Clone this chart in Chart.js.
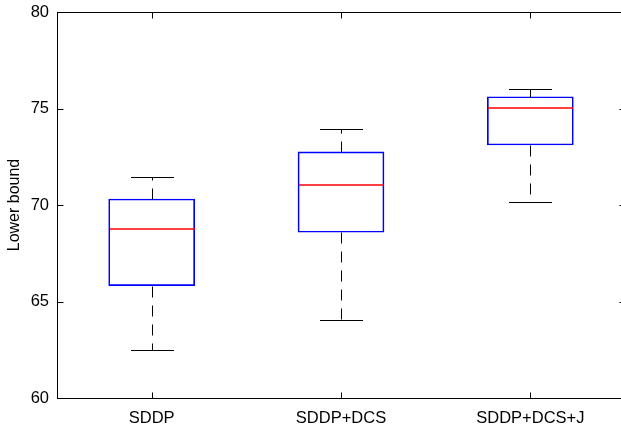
<!DOCTYPE html>
<html lang="en">
<head>
<meta charset="UTF-8">
<title>Lower bound box plot</title>
<script src="https://cdn.jsdelivr.net/npm/chart.js"></script>
<style>
  html, body { margin: 0; padding: 0; overflow: hidden; background: #fff; }
  #wrap { width: 630px; height: 425px; }
</style>
</head>
<body>
<div id="wrap"><canvas id="boxChart"></canvas></div>
<script>
// box plot values
var methods = ['SDDP', 'SDDP+DCS', 'SDDP+DCS+J'];
var whiskerLow = [62.47, 64.06, 70.14];
var q1 = [65.82, 68.59, 73.11];
var median = [68.77, 71.02, 75.01];
var q3 = [70.31, 72.75, 75.61];
var whiskerHigh = [71.45, 73.94, 76.01];
var yTicks = [60, 65, 70, 75, 80];

var boxes = q1.map(function (lo, i) { return [lo, q3[i]]; });

function px(v) { return Math.round(v) + 0.5; }

// medians, whiskers, caps and the matlab style frame with inward ticks
var boxExtras = {
    id: 'boxExtras',
    afterDatasetsDraw: function (chart) {
        var c = chart.ctx;
        var xs = chart.scales.x, ys = chart.scales.y;
        var bars = chart.getDatasetMeta(0).data;
        var area = chart.chartArea;
        c.save();
        c.lineWidth = 1;
        for (var i = 0; i < methods.length; i++) {
            var cx = px(xs.getPixelForValue(i));
            var half = Math.round(bars[i].width / 2);

            // whiskers, dashed from the box edge outward
            c.strokeStyle = '#000000';
            c.setLineDash([11, 8]);
            c.beginPath();
            c.moveTo(cx, px(ys.getPixelForValue(q3[i])));
            c.lineTo(cx, px(ys.getPixelForValue(whiskerHigh[i])));
            c.moveTo(cx, px(ys.getPixelForValue(q1[i])));
            c.lineTo(cx, px(ys.getPixelForValue(whiskerLow[i])));
            c.stroke();
            c.setLineDash([]);

            // caps
            var yh = px(ys.getPixelForValue(whiskerHigh[i]));
            var yl = px(ys.getPixelForValue(whiskerLow[i]));
            c.beginPath();
            c.moveTo(cx - half / 2, yh); c.lineTo(cx + half / 2, yh);
            c.moveTo(cx - half / 2, yl); c.lineTo(cx + half / 2, yl);
            c.stroke();
        }

        // medians in red, a bit soft like the original export
        c.strokeStyle = '#ff0000';
        c.lineWidth = 1.5;
        for (var j = 0; j < methods.length; j++) {
            var mx = Math.round(xs.getPixelForValue(j)) + 0.5;
            var mh = Math.round(bars[j].width / 2);
            var my = Math.round(ys.getPixelForValue(median[j]));
            c.beginPath();
            c.moveTo(mx - mh + 0.5, my);
            c.lineTo(mx + mh - 0.5, my);
            c.stroke();
        }
        c.lineWidth = 1;

        // frame
        c.strokeStyle = '#000000';
        var l = px(area.left), r = px(area.right), t = px(area.top), b = px(area.bottom);
        c.strokeRect(l, t, r - l, b - t);
        c.beginPath();
        yTicks.forEach(function (v) {
            var y = px(ys.getPixelForValue(v));
            c.moveTo(l, y); c.lineTo(l + 6, y);
            c.moveTo(r, y); c.lineTo(r - 6, y);
        });
        methods.forEach(function (m, i) {
            var x = px(xs.getPixelForValue(i));
            c.moveTo(x, b); c.lineTo(x, b - 6);
            c.moveTo(x, t); c.lineTo(x, t + 6);
        });
        c.stroke();
        c.restore();
    }
};

var ctx = document.getElementById('boxChart').getContext('2d');
var chart = new Chart(ctx, {
    type: 'bar',
    data: {
        labels: methods,
        datasets: [{
            label: 'Lower bound',
            data: boxes,
            backgroundColor: 'rgba(0,0,0,0)',
            borderColor: '#0000ff',
            borderWidth: 1,
            borderSkipped: false,
            barThickness: 86
        }]
    },
    options: {
        responsive: true,
        maintainAspectRatio: false,
        animation: false,
        layout: { padding: { top: 12, right: 5, left: 0, bottom: 0 } },
        plugins: {
            legend: { display: false },
            tooltip: { enabled: false }
        },
        scales: {
            x: {
                grid: { display: false, drawTicks: false },
                border: { display: false },
                ticks: {
                    color: '#000',
                    padding: 11,
                    font: { family: 'Liberation Sans, Arial, sans-serif', size: 16.5 }
                },
                afterFit: function (scale) {
                    scale.height = 27;
                    scale.paddingLeft = 0;
                    scale.paddingRight = 0;
                }
            },
            y: {
                min: 60,
                max: 80,
                grid: { display: false, drawTicks: false },
                border: { display: false },
                ticks: {
                    stepSize: 5,
                    color: '#000',
                    padding: 8,
                    font: { family: 'Liberation Sans, Arial, sans-serif', size: 16.5 }
                },
                title: {
                    display: true,
                    text: 'Lower bound',
                    color: '#000',
                    padding: { top: 5, bottom: 0 },
                    font: { family: 'Liberation Sans, Arial, sans-serif', size: 16 }
                },
                afterFit: function (scale) {
                    scale.width = 57;
                    scale.paddingTop = 0;
                    scale.paddingBottom = 0;
                }
            }
        }
    },
    plugins: [boxExtras]
});
</script>
</body>
</html>
